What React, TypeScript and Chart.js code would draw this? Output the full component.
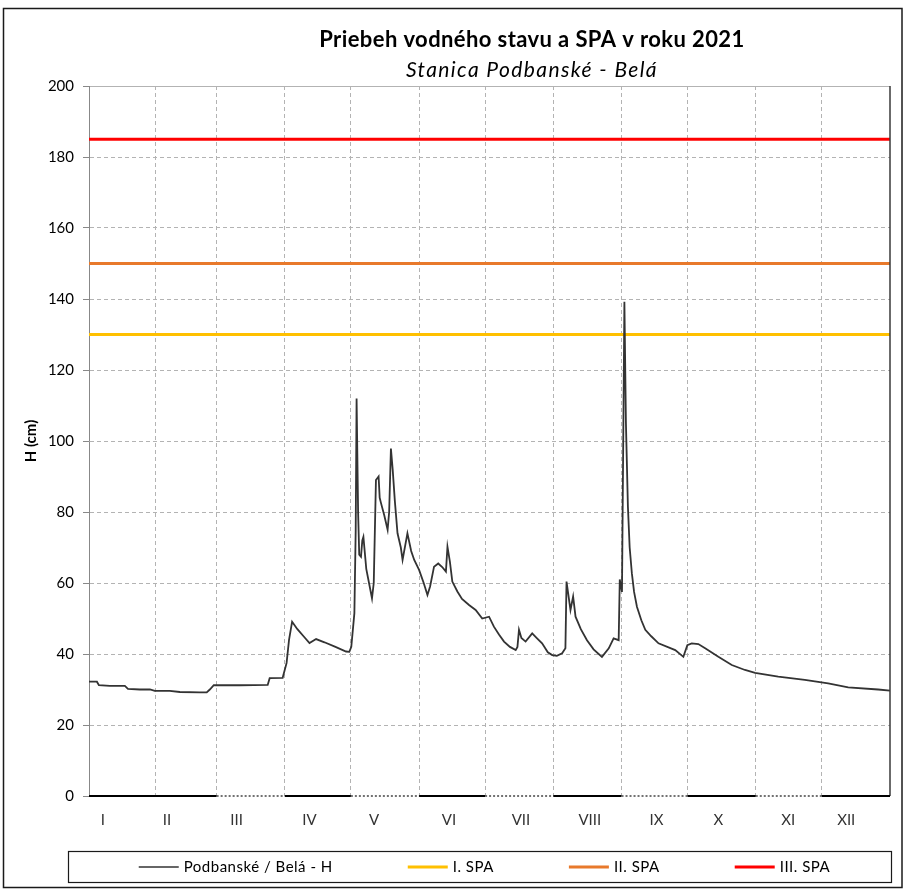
import React, { useEffect, useRef } from 'react';
import { Chart, registerables } from 'chart.js';

Chart.register(...registerables);

const FONT = 'Lato, "Open Sans", "DejaVu Sans", sans-serif';

const titleText = 'Priebeh vodného stavu a SPA v roku 2021';
const subtitleText = 'Stanica Podbanské - Belá';
const yAxisTitle = 'H (cm)';

const monthNames = ['I', 'II', 'III', 'IV', 'V', 'VI', 'VII', 'VIII', 'IX', 'X', 'XI', 'XII'];
const monthLabelDays = [7.3, 36.4, 68.1, 101.2, 130.6, 164.6, 197.3, 228.6, 258.9, 287.0, 318.8, 345.1];
const monthStartDays = [0, 31, 59, 90, 120, 151, 181, 212, 243, 273, 304, 334, 365];
const dottedAxisMonths = [2, 4, 6, 8, 10];

const seriesName = 'Podbanské / Belá - H';
const levelDays = [
  1.0, 4.6, 5.5, 10.5, 17.3, 18.7, 24.1, 28.7, 30.9, 37.7, 42.3, 51.3, 54.5, 55.9, 57.7, 69.5,
  82.2, 83.1, 89.0, 90.8, 91.9, 93.3, 95.7, 98.5, 101.2, 104.2, 108.0, 113.0, 117.8, 119.3, 120.2,
  121.6, 122.2, 122.6, 123.3, 123.8, 124.6, 125.2, 125.7, 127.0, 129.6, 130.4, 131.4, 132.6, 133.1,
  133.7, 135.2, 136.7, 137.4, 138.2, 139.0, 140.0, 141.2, 142.7, 143.5, 145.7, 147.4, 148.8, 151.0, 153.1,
  154.8, 156.0, 157.8, 159.7, 161.5, 163.2, 163.9, 165.0, 166.1, 168.4, 170.5, 173.7, 176.7, 179.7,
  182.8, 185.0, 187.3, 189.6, 192.3, 194.9, 195.7, 196.4, 197.5, 199.4, 202.4, 204.5, 206.9, 209.5,
  211.5, 213.6, 216.0, 217.5, 218.0, 219.8, 221.0, 222.1, 224.5, 227.3, 230.3, 234.1, 237.2, 239.4, 241.7, 242.2,
  243.2, 244.3, 245.0, 245.9, 246.7, 247.7, 248.7, 250.0, 252.0, 253.8, 256.5, 259.8, 267.4, 271.1, 272.9, 274.9, 277.9, 281.0,
  287.0, 293.1, 299.1, 303.7, 314.2, 326.3, 336.9, 346.0, 359.6, 365.0,
];
const levelValues = [
  32.2, 32.2, 31.2, 31.0, 31.0, 30.2, 30.0, 30.0, 29.6, 29.6, 29.3, 29.2, 29.2, 30.0, 31.2, 31.2,
  31.3, 33.2, 33.3, 37.5, 44.0, 49.1, 47.0, 45.0, 43.1, 44.2, 43.3, 42.0, 40.7, 40.6, 42.0,
  51.5, 75.0, 112.0, 79.7, 68.0, 67.4, 72.0, 73.0, 64.0, 55.7, 60.0, 89.0, 90.0, 84.0,
  82.5, 79.0, 75.0, 80.0, 97.9, 92.0, 83.0, 74.0, 70.0, 66.5, 74.0, 69.0, 66.5, 63.7, 60.0,
  56.6, 59.0, 64.6, 65.5, 64.5, 63.2, 70.2, 66.0, 60.4, 57.6, 55.5, 53.8, 52.4, 50.0,
  50.5, 47.7, 45.5, 43.5, 42.0, 41.1, 42.0, 46.8, 44.5, 43.5, 45.8, 44.5, 43.0, 40.5,
  39.7, 39.5, 40.2, 41.6, 60.4, 52.4, 56.2, 50.5, 47.0, 43.9, 41.3, 39.2, 41.6, 44.4, 43.9, 61.0,
  57.5, 139.2, 105.0, 81.5, 70.0, 62.7, 57.5, 53.3, 49.5, 46.8, 45.0, 43.0, 41.1, 39.2, 42.5, 43.0, 42.8, 41.6,
  39.2, 36.9, 35.5, 34.7, 33.6, 32.7, 31.7, 30.6, 30.0, 29.7,
];

const spaNames = ['I. SPA', 'II. SPA', 'III. SPA'];
const spaLevels = [130, 150, 185];
const spaColors = ['#FFC000', '#E8792B', '#FF0000'];

const xMin = 1;
const xMax = 365;

const decorPlugin = {
  id: 'decor',
  afterDraw(chart: any) {
    const { ctx, chartArea } = chart;
    const xs = chart.scales.x;
    const { left, right, top, bottom } = chartArea;
    ctx.save();

    // outer frame
    ctx.strokeStyle = '#1a1a1a';
    ctx.lineWidth = 1.5;
    ctx.strokeRect(3.5, 8.5, chart.width - 6.5, chart.height - 11);

    // title & subtitle
    const cx = left + (right - left) * 0.553;
    ctx.fillStyle = '#000';
    ctx.textAlign = 'center';
    ctx.textBaseline = 'middle';
    ctx.font = `bold 22px ${FONT}`;
    (ctx as any).letterSpacing = '0.4px';
    ctx.fillText(titleText, cx, top - 46);
    ctx.font = `italic 21px ${FONT}`;
    (ctx as any).letterSpacing = '1.4px';
    ctx.fillText(subtitleText, cx, top - 16);
    (ctx as any).letterSpacing = '0px';

    // right plot border
    ctx.strokeStyle = '#3a3a3a';
    ctx.lineWidth = 1.5;
    ctx.beginPath();
    ctx.moveTo(right, top);
    ctx.lineTo(right, bottom);
    ctx.stroke();

    // bottom axis (alternating solid / dotted by month)
    for (let i = 0; i < 12; i++) {
      const a = xs.getPixelForValue(Math.max(monthStartDays[i], xMin));
      const b = xs.getPixelForValue(Math.min(monthStartDays[i + 1], xMax));
      ctx.beginPath();
      if (dottedAxisMonths.includes(i)) {
        ctx.setLineDash([2, 2]);
        ctx.strokeStyle = '#444';
        ctx.lineWidth = 1.5;
      } else {
        ctx.setLineDash([]);
        ctx.strokeStyle = '#000';
        ctx.lineWidth = 2;
      }
      ctx.moveTo(a, bottom);
      ctx.lineTo(b, bottom);
      ctx.stroke();
    }
    ctx.setLineDash([]);

    // legend box
    const lx0 = left - 21;
    const lx1 = right + 1;
    const ly0 = bottom + 55;
    const lh = 31;
    ctx.strokeStyle = '#1a1a1a';
    ctx.lineWidth = 1.2;
    ctx.strokeRect(lx0 + 0.5, ly0 + 0.5, lx1 - lx0, lh);

    const ds = chart.data.datasets;
    ctx.font = `15px ${FONT}`;
    (ctx as any).letterSpacing = '0.5px';
    const sample = 40;
    const gapText = 5;
    const gapItem = 75;
    const widths = ds.map((d: any) => sample + gapText + ctx.measureText(d.label).width);
    const total = widths.reduce((s: number, w: number) => s + w, 0) + gapItem * (ds.length - 1);
    let x = (lx0 + lx1) / 2 + 5 - total / 2;
    const ly = ly0 + lh / 2 + 0.5;
    ds.forEach((d: any, i: number) => {
      ctx.strokeStyle = d.borderColor;
      ctx.lineWidth = i === 0 ? 1.5 : 3;
      ctx.beginPath();
      ctx.moveTo(x, ly);
      ctx.lineTo(x + sample, ly);
      ctx.stroke();
      ctx.fillStyle = '#000';
      ctx.textAlign = 'left';
      ctx.textBaseline = 'middle';
      ctx.fillText(d.label, x + sample + gapText, ly);
      x += widths[i] + gapItem;
    });
    (ctx as any).letterSpacing = '0px';

    ctx.restore();
  },
};

export default function App() {
  const canvasRef = useRef<HTMLCanvasElement | null>(null);

  useEffect(() => {
    if (!canvasRef.current) return;
    const levelData = levelDays.map((d, i) => ({ x: d, y: levelValues[i] }));
    const spaDatasets = spaLevels.map((v, i) => ({
      label: spaNames[i],
      data: [
        { x: xMin, y: v },
        { x: xMax, y: v },
      ],
      borderColor: spaColors[i],
      backgroundColor: spaColors[i],
      borderWidth: 3,
      pointRadius: 0,
    }));

    const tickValues = [...monthStartDays.filter((d) => d > xMin && d <= xMax), ...monthLabelDays].sort(
      (a, b) => a - b
    );

    const chart = new Chart(canvasRef.current, {
      type: 'line',
      data: {
        datasets: [
          {
            label: seriesName,
            data: levelData,
            borderColor: '#333333',
            backgroundColor: '#333333',
            borderWidth: 1.8,
            pointRadius: 0,
            tension: 0,
          },
          ...spaDatasets,
        ],
      },
      options: {
        animation: false,
        responsive: true,
        maintainAspectRatio: false,
        layout: { padding: { top: 86, right: 13, left: 0, bottom: 0 } },
        plugins: {
          legend: { display: false },
          title: { display: false },
          tooltip: { enabled: false },
        },
        scales: {
          x: {
            type: 'linear',
            min: xMin,
            max: xMax,
            afterBuildTicks: (scale: any) => {
              scale.ticks = tickValues.map((v) => ({ value: v }));
            },
            afterFit: (scale: any) => {
              scale.height = 94;
            },
            ticks: {
              autoSkip: false,
              maxRotation: 0,
              padding: 15,
              color: '#333',
              font: { family: FONT, size: 15 },
              callback: (v: any) => {
                const i = monthLabelDays.indexOf(Number(v));
                return i >= 0 ? monthNames[i] : '';
              },
            },
            grid: {
              drawTicks: false,
              lineWidth: 1,
              color: (c: any) => {
                const v = c.tick ? c.tick.value : null;
                return v !== null && monthStartDays.includes(v) && v < xMax ? '#b3b3b3' : 'rgba(0,0,0,0)';
              },
            },
            border: { display: false, dash: [4, 3] },
          },
          y: {
            min: 0,
            max: 200,
            afterFit: (scale: any) => {
              scale.width = 89;
            },
            ticks: {
              stepSize: 20,
              padding: 9,
              color: '#000',
              font: { family: FONT, size: 15 },
            },
            title: {
              display: true,
              text: yAxisTitle,
              color: '#000',
              font: { family: FONT, size: 15, weight: 'bold' },
              padding: { top: 22, bottom: 0 },
            },
            grid: {
              drawTicks: true,
              tickLength: 6,
              tickColor: '#888',
              tickBorderDash: [],
              lineWidth: 1,
              color: (c: any) => {
                const v = c.tick ? c.tick.value : null;
                return v === 0 ? 'rgba(0,0,0,0)' : '#b3b3b3';
              },
            },
            border: {
              display: true,
              color: '#888',
              width: 1,
              dash: (c: any) => (c.tick && c.tick.value === 200 ? [] : [4, 3]),
            },
          },
        },
      },
      plugins: [decorPlugin],
    } as any);

    return () => chart.destroy();
  }, []);

  return (
    <div style={{ position: 'absolute', left: 0, top: 0, width: 905, height: 890, background: '#fff' }}>
      <canvas ref={canvasRef} />
    </div>
  );
}
